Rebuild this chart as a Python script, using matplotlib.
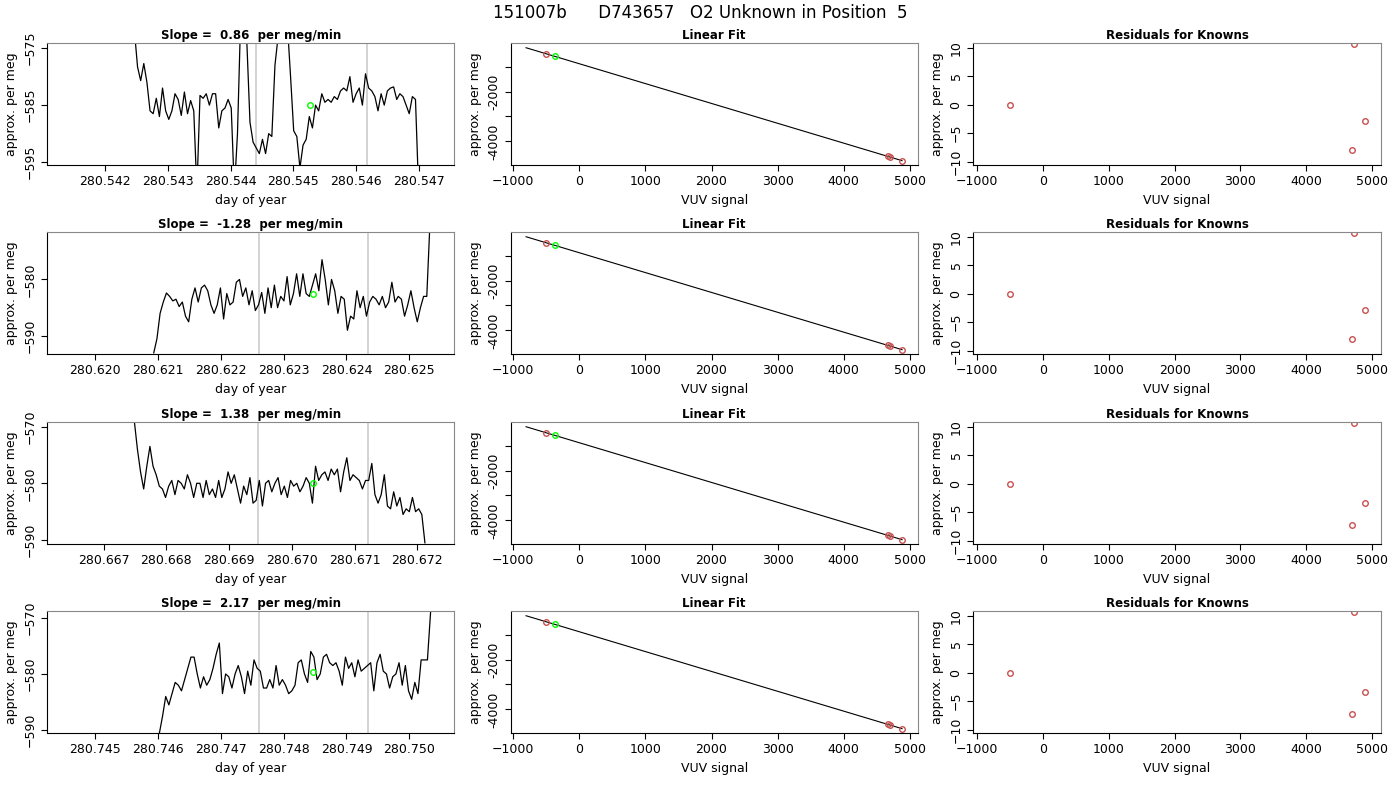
import numpy as np
import matplotlib.pyplot as plt

title = '151007b      D743657   O2 Unknown in Position  5'
slopes = [0.86, -1.28, 1.38, 2.17]

# time series, sampled evenly between start and end day
starts = [280.54247, 280.62093, 280.66749, 280.74602]
ends = [280.54699, 280.62533, 280.67212, 280.75034]
series1 = [-572, -578.3, -580.7, -577.7, -581, -586, -586.5, -583.8, -587, -582, -586, -587.5,
           -586, -583, -584, -586.8, -582.7, -586.5, -584.2, -586, -600, -583.3, -583.8, -583,
           -585, -583, -583, -589, -586, -585.5, -584, -585.5, -600, -590, -570, -568, -574,
           -588, -591.5, -592.5, -593.5, -591, -593.5, -590, -590.5, -578, -573, -570, -570, -571,
           -580, -589.5, -590.5, -596, -592, -591, -587, -589, -585, -586, -583, -584.5, -584,
           -584.5, -583.5, -584, -582.5, -582, -582.5, -580, -584.5, -583, -582, -585, -579.5,
           -582, -582.5, -583.5, -586, -583, -585, -582.5, -582, -581.8, -584, -583, -583.5,
           -585, -586.5, -583.5, -584, -600]
series2 = [-593, -590.5, -586, -584, -582.4, -583, -583.8, -583.5, -584.8, -584, -586.5, -587.5,
           -583.5, -581.5, -584, -581.5, -581, -582, -584.5, -586, -584.5, -581.5, -587, -582.5,
           -584.5, -584, -580.5, -580, -583, -581.5, -584.5, -582, -585.5, -584.5, -582.3, -586,
           -581.5, -585, -581, -585, -583, -583.8, -579.5, -584.5, -582.5, -579, -583, -579,
           -582.5, -583, -581, -579, -582, -576.5, -580, -584.5, -580, -582, -586, -583, -583.5,
           -589, -586.5, -587, -582, -585, -583, -586.5, -584, -583, -583.5, -584.5, -583, -585,
           -584, -580.5, -584, -583, -583.5, -586.5, -584.5, -582, -585, -587.5, -585, -583,
           -583, -570]
series3 = [-569, -574, -578, -581, -577, -573.5, -577, -578.5, -580.5, -581, -582.5, -580.5,
           -579.5, -582, -579.5, -580, -581, -578.5, -580, -582.5, -580, -580, -582.5, -579.5,
           -582, -581, -582.5, -579.5, -582.5, -581, -578, -580, -578.5, -581, -583.5, -580.5,
           -582, -579, -583.5, -583, -579.5, -584, -580, -579.5, -581.5, -580, -579, -582,
           -580.5, -582.5, -579.5, -580.5, -580, -581.5, -580.5, -579, -580, -583.5, -577,
           -579.5, -578.5, -578, -579.5, -577.5, -578.5, -577.5, -581.5, -578, -575.5, -579.5,
           -578.5, -579, -579.5, -581, -579.5, -579.5, -576.5, -582, -583.5, -582, -578.5, -584,
           -584.5, -581.5, -584, -582.5, -585.5, -584.5, -585, -582.5, -585, -584.5, -585.5,
           -590.5]
series4 = [-590.5, -587.5, -584, -585.5, -583.5, -581.5, -582, -583, -581, -579, -577, -577,
           -580, -582.5, -580.5, -582, -581, -579, -576.5, -574.5, -583.5, -580, -580.5, -582.5,
           -580, -578.5, -580.5, -583.5, -579.5, -582, -577.5, -579, -579.5, -582.5, -582.5,
           -581, -582.5, -578.5, -582, -581, -582, -583.5, -583, -582, -578, -577.5, -580,
           -581.5, -576, -577, -581, -580, -577, -576.5, -578, -578.5, -578, -579.5, -582, -577,
           -579, -578, -580.5, -577.5, -579.5, -579, -578.5, -578, -583, -578, -576.5, -579.5,
           -580, -582.5, -580.5, -580, -578, -582, -578.5, -583, -584.5, -581.5, -583.5, -577.5,
           -577.5, -577.5, -569]
series = [series1, series2, series3, series4]

xlims = [(280.54108, 280.54756), (280.61923, 280.62572), (280.66610, 280.67259), (280.74423, 280.75072)]
ylims = [(-595.5, -574.1), (-593.2, -571.6), (-590.7, -569.2), (-590.5, -568.8)]
yticks = [[-575, -585, -595], [-580, -590], [-570, -580, -590], [-570, -580, -590]]
xtick_start = [280.542, 280.620, 280.667, 280.745]
window = [(280.5444, 280.54617), (280.62260, 280.62435), (280.66946, 280.67121), (280.74760, 280.74935)]
unknown_day = [280.54526, 280.62347, 280.67034, 280.74847]
unknown_val = [-585, -582.5, -580, -579.7]

# linear fit panel
known_x = [-510, 4672, 4707, 4884]
known_y = [-480, -4587, -4613, -4773]
unk_x = -369
unk_y = -573
fit_x = [-808, 4884]
fit_y = [-243, -4773]
resid = [[0, -8, 10.8, -2.9], [0, -8, 10.8, -2.9], [0, -7.3, 10.8, -3.3], [0, -7.3, 10.8, -3.3]]
resid_x = [-510, 4690, 4725, 4900]

red = '#c85050'
fs = 9

fig = plt.figure(figsize=(14, 8), dpi=100)
fig.suptitle(title, y=0.995, fontsize=12)
bottoms = [0.79375, 0.5575, 0.32, 0.08375]
h = 0.1525


def style(ax):
    for s in ax.spines.values():
        s.set_color('#888888')
    ax.spines['left'].set_color('black')
    ax.spines['bottom'].set_color('black')
    ax.tick_params(labelsize=fs, length=4)
    ax.tick_params(axis='y', labelrotation=90)
    for t in ax.get_yticklabels():
        t.set_va('center')


for i in range(4):
    b = bottoms[i]
    ax = fig.add_axes([0.0336, b, 0.291, h])
    x = np.linspace(starts[i], ends[i], len(series[i]))
    ax.plot(x, series[i], color='black', lw=0.9)
    for w in window[i]:
        ax.axvline(w, color='#cccccc', lw=1.2, zorder=0)
    ax.plot(unknown_day[i], unknown_val[i], 'o', mfc='none', mec='#00ff00', ms=4)
    ax.set_xlim(xlims[i])
    ax.set_ylim(ylims[i])
    ax.set_xticks([xtick_start[i] + 0.001 * k for k in range(6)])
    ax.set_xticklabels(['%.3f' % (xtick_start[i] + 0.001 * k) for k in range(6)])
    ax.set_yticks(yticks[i])
    ax.set_title('Slope =  %.2f  per meg/min' % slopes[i], fontsize=fs - 0.5, fontweight='bold', pad=3)
    ax.set_xlabel('day of year', fontsize=fs)
    ax.set_ylabel('approx. per meg', fontsize=fs)
    style(ax)

    ax2 = fig.add_axes([0.3648, b, 0.2907, h])
    ax2.plot(fit_x, fit_y, color='black', lw=0.8)
    ax2.plot(known_x, known_y, 'o', mfc='none', mec=red, ms=4)
    ax2.plot(unk_x, unk_y, 'o', mfc='none', mec='#00ff00', ms=4)
    ax2.set_xlim(-1040, 5121)
    ax2.set_ylim(-4947, -53)
    ax2.set_xticks(range(-1000, 5001, 1000))
    ax2.set_yticks([-1000, -2000, -3000, -4000])
    ax2.set_yticklabels(['', '-2000', '', '-4000'])
    ax2.set_title('Linear Fit', fontsize=fs - 0.5, fontweight='bold', pad=3)
    ax2.set_xlabel('VUV signal', fontsize=fs)
    ax2.set_ylabel('approx. per meg', fontsize=fs)
    style(ax2)

    ax3 = fig.add_axes([0.695, b, 0.2914, h])
    ax3.plot(resid_x, resid[i], 'o', mfc='none', mec=red, ms=4)
    ax3.set_xlim(-1066, 5137)
    ax3.set_ylim(-10.6, 10.9)
    ax3.set_xticks(range(-1000, 5001, 1000))
    ax3.set_yticks([10, 5, 0, -5, -10])
    ax3.set_title('Residuals for Knowns', fontsize=fs - 0.5, fontweight='bold', pad=3)
    ax3.set_xlabel('VUV signal', fontsize=fs)
    ax3.set_ylabel('approx. per meg', fontsize=fs)
    style(ax3)

fig.savefig('out.png', dpi=100)
